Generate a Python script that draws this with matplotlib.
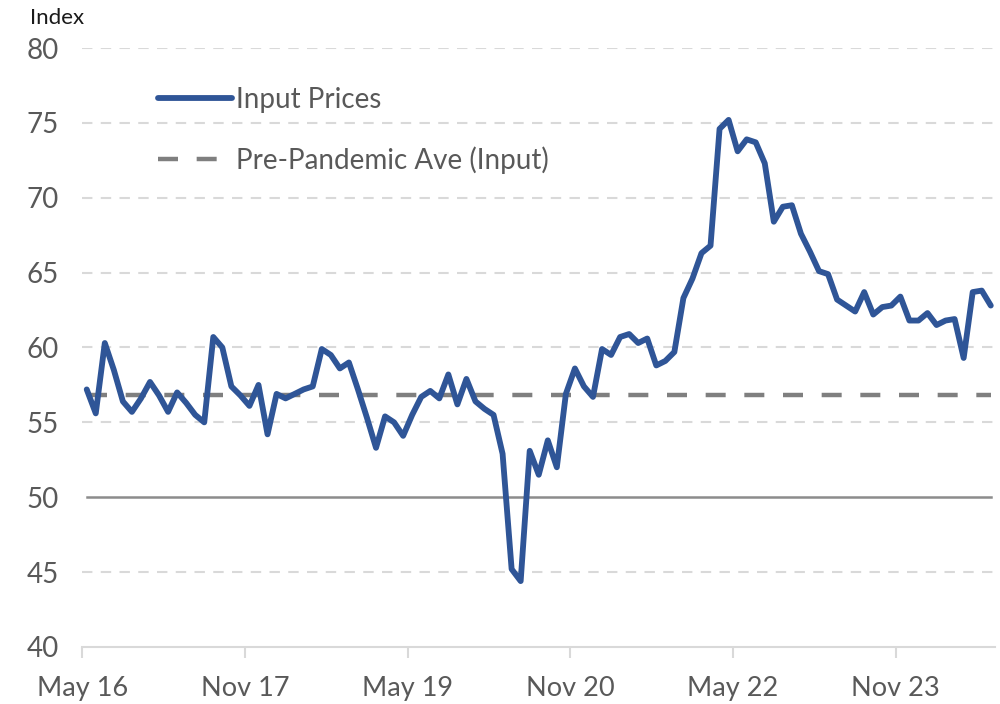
import numpy as np
import matplotlib
matplotlib.use("Agg")
import matplotlib.pyplot as plt

plt.rcParams['font.family'] = ['Lato', 'DejaVu Sans']

# monthly input prices index, May 2016 .. Sep 2024
input_prices = [
    57.2, 55.6, 60.3, 58.5, 56.4, 55.7, 56.6, 57.7, 56.8, 55.7,
    57.0, 56.3, 55.5, 55.0, 60.7, 60.0, 57.4, 56.8, 56.1, 57.5,
    54.2, 56.9, 56.6, 56.9, 57.2, 57.4, 59.9, 59.5, 58.6, 59.0,
    57.2, 55.3, 53.3, 55.4, 55.0, 54.1, 55.5, 56.7, 57.1, 56.6,
    58.2, 56.2, 57.9, 56.4, 55.9, 55.5, 52.9, 45.2, 44.4, 53.1,
    51.5, 53.8, 52.0, 56.9, 58.6, 57.4, 56.7, 59.9, 59.5, 60.7,
    60.9, 60.3, 60.6, 58.8, 59.1, 59.7, 63.3, 64.6, 66.3, 66.8,
    74.6, 75.2, 73.1, 73.9, 73.7, 72.3, 68.4, 69.4, 69.5, 67.6,
    66.4, 65.1, 64.9, 63.2, 62.8, 62.4, 63.7, 62.2, 62.7, 62.8,
    63.4, 61.8, 61.8, 62.3, 61.5, 61.8, 61.9, 59.3, 63.7, 63.8,
    62.8,
]
pre_pandemic_ave = 56.8
neutral_level = 50

tick_labels = ["May 16", "Nov 17", "May 19", "Nov 20", "May 22", "Nov 23"]
tick_every = 18  # months between labels
y_ticks = [40, 45, 50, 55, 60, 65, 70, 75, 80]

n = len(input_prices)
x = np.arange(n)

fig = plt.figure(figsize=(10, 7.04), dpi=100)
ax = fig.add_axes([0.0822, 0.081, 0.9131, 0.8508])

grey_text = "#595959"
grid_col = "#d9d9d9"

# dashed horizontal gridlines (except 40 axis and 50 line)
for yv in y_ticks:
    if yv in (40, neutral_level):
        continue
    ax.axhline(yv, color=grid_col, lw=1.5, ls=(0, (5, 4)), zorder=1)

ax.plot(x, [neutral_level] * n, color="#8c8c8c", lw=1.8, zorder=2)
ax.plot(x, [pre_pandemic_ave] * n, color="#7f7f7f", lw=3.2,
        ls=(0, (4.5, 4.2)), label="Pre-Pandemic Ave (Input)", zorder=3)
ax.plot(x, input_prices, color="#2f5597", lw=4.2, solid_joinstyle="round",
        solid_capstyle="round", label="Input Prices", zorder=4)

ax.set_xlim(-0.5, n - 0.5)
ax.set_ylim(40, 80)

tick_pos = [-0.5 + tick_every * k for k in range(len(tick_labels))]
ax.set_xticks(tick_pos)
ax.set_xticklabels(tick_labels)
ax.set_yticks(y_ticks)
ax.set_yticklabels([str(v) for v in y_ticks])

for s in ("top", "right", "left"):
    ax.spines[s].set_visible(False)
ax.spines["bottom"].set_color(grid_col)
ax.spines["bottom"].set_linewidth(1.5)

ax.tick_params(axis="x", colors=grid_col, length=8, width=1.5, pad=13,
               labelsize=19.5, labelcolor=grey_text)
ax.tick_params(axis="y", length=0, pad=17, labelsize=20, labelcolor=grey_text)

handles, labels = ax.get_legend_handles_labels()
leg = ax.legend(handles[::-1], labels[::-1], loc="upper left",
                bbox_to_anchor=(0.056, 0.977), frameon=False, fontsize=20,
                handlelength=2.65, handletextpad=0.15, labelspacing=1.2)
for t in leg.get_texts():
    t.set_color(grey_text)

fig.text(0.03, 0.975, "Index", fontsize=16, color="#1a1a1a", va="center")

fig.savefig("out.png", dpi=100)
